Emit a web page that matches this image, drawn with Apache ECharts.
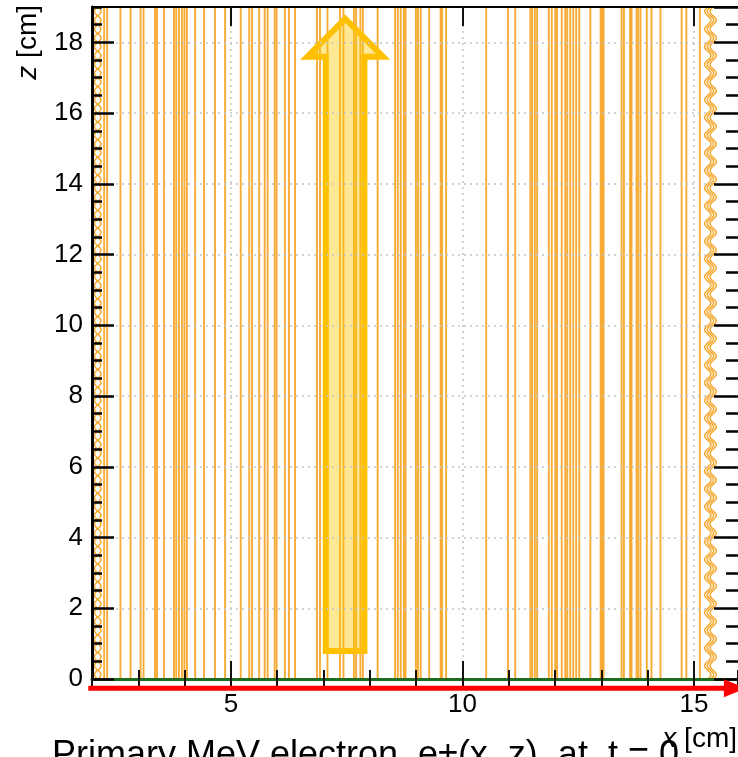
<!DOCTYPE html>
<html>
<head>
<meta charset="utf-8">
<title>Electron tracks in the x–z plane</title>
<script src="https://cdn.jsdelivr.net/npm/echarts@6/dist/echarts.min.js"></script>
<style>
  html, body { margin: 0; padding: 0; background: #ffffff; }
  #chart { width: 738px; height: 757px; }
</style>
</head>
<body>
<div id="chart"></div>
<script>
// Axis ranges [cm]
const xRange = [2, 15.95];
const zRange = [0, 19];

// Tick positions
const xMajorTicks = [5, 10, 15];
const zMajorStep = 2;
const zMinorStep = 0.5;
const xMinorStep = 1;

// x positions [cm] of the straight drift tracks
const trackX = [
  2.263, 2.327, 2.614, 2.833, 3.048, 3.113, 3.361, 3.404, 3.554, 3.770,
  3.819, 3.877, 3.942, 3.996, 4.050, 4.228, 4.420, 4.657, 4.874, 5.212,
  5.395, 5.455, 5.610, 5.729, 5.793, 5.944, 5.987, 6.166, 6.252, 6.385,
  6.859, 6.924, 7.085, 7.354, 7.430, 7.656, 7.703, 7.795, 7.849, 8.168,
  8.545, 8.603, 8.667, 8.736, 8.771, 8.995, 9.040, 9.098, 9.281, 9.529,
  9.561, 9.647, 10.512, 10.982, 11.139, 11.466, 11.505, 11.563, 11.612, 11.865,
  11.929, 12.004, 12.043, 12.144, 12.220, 12.263, 12.327, 12.392, 12.456, 12.521,
  12.762, 12.984, 13.016, 13.048, 13.436, 13.486, 13.619, 13.651, 13.759, 13.795,
  13.845, 13.981, 14.082, 14.276, 14.734, 14.835, 15.126
];

// Oscillating tracks near the edges: centre x [cm], amplitude [cm], phase [rad]
const waveX     = [2.123, 2.123, 15.297, 15.355, 15.413];
const waveAmp   = [0.072, 0.072, 0.068, 0.068, 0.068];
const wavePhase = [0, Math.PI, 0, 0, 0];
const wavePeriod = 0.5;

// Drift direction arrow outline (x, z) [cm]
const driftArrow = [
  [7.048, 0.792], [7.882, 0.792], [7.882, 17.594], [8.285, 17.594],
  [7.467, 18.668], [6.649, 17.594], [7.048, 17.594]
];

// Beam direction arrow along x, just below z = 0
const beamArrow = [[1.92, -0.26], [16.12, -0.26]];

const FONT = '"Liberation Sans", Arial, Helvetica, sans-serif';
const trackColor = 'rgba(244, 158, 20, 0.85)';
const gridLine = { show: true, lineStyle: { color: '#c4c4c4', width: 1.5, type: [2, 4] } };

const chart = echarts.init(document.getElementById('chart'), null, { renderer: 'canvas' });

const gridBox = { left: 92, top: 7, width: 648, height: 672 };

function baseX(extra) {
  return Object.assign({
    type: 'value', min: xRange[0], max: xRange[1], gridIndex: 0,
    axisLine: { show: false }, axisLabel: { show: false },
    splitLine: { show: false }, axisTick: { show: false }
  }, extra);
}
function baseZ(extra) {
  return Object.assign({
    type: 'value', min: zRange[0], max: zRange[1], gridIndex: 0,
    axisLine: { show: false }, axisLabel: { show: false },
    splitLine: { show: false }, axisTick: { show: false }
  }, extra);
}

const option = {
  animation: false,
  backgroundColor: '#ffffff',
  grid: Object.assign({ containLabel: false, show: false }, gridBox),
  xAxis: [
    baseX({
      position: 'bottom', z: 5,
      axisLine: { show: true, onZero: false, lineStyle: { color: '#1f6b1f', width: 3 } },
      axisTick: { show: true, inside: true, length: 18, customValues: xMajorTicks,
                  lineStyle: { color: '#111', width: 2 } },
      axisLabel: { show: true, customValues: xMajorTicks, margin: 13,
                   fontFamily: FONT, fontSize: 26, color: '#000' },
      splitLine: gridLine
    }),
    baseX({
      position: 'bottom', interval: xMinorStep, z: 5,
      axisTick: { show: true, inside: true, length: 9, lineStyle: { color: '#111', width: 2 } }
    }),
    baseX({
      position: 'top', z: 5,
      axisLine: { show: true, onZero: false, lineStyle: { color: '#000', width: 2 } },
      axisTick: { show: true, inside: true, length: 19, customValues: xMajorTicks,
                  lineStyle: { color: '#111', width: 2 } }
    }),
    baseX({
      position: 'top', interval: xMinorStep, z: 5,
      axisTick: { show: true, inside: true, length: 9, lineStyle: { color: '#111', width: 2 } }
    })
  ],
  yAxis: [
    baseZ({
      position: 'left', interval: zMajorStep, z: 5,
      axisLine: { show: true, onZero: false, lineStyle: { color: '#000', width: 3 } },
      axisTick: { show: true, inside: true, length: 22, lineStyle: { color: '#000', width: 2.5 } },
      axisLabel: { show: true, margin: 9, showMaxLabel: false,
                   fontFamily: FONT, fontSize: 26, color: '#000' },
      splitLine: gridLine
    }),
    baseZ({
      position: 'left', interval: zMinorStep, z: 5,
      axisTick: { show: true, inside: true, length: 10, lineStyle: { color: '#000', width: 2.5 } }
    }),
    baseZ({
      position: 'right', interval: zMajorStep, z: 5,
      axisTick: { show: true, inside: true, length: 24, lineStyle: { color: '#000', width: 2.5 } }
    }),
    baseZ({
      position: 'right', interval: zMinorStep, z: 5,
      axisTick: { show: true, inside: true, length: 12, lineStyle: { color: '#000', width: 2.5 } }
    })
  ],
  series: [
    {
      // straight tracks spanning the full drift length
      type: 'custom', name: 'tracks', xAxisIndex: 0, yAxisIndex: 0, z: 2,
      data: trackX.map(x => [x, zRange[0], zRange[1]]),
      encode: { x: 0, y: [1, 2] },
      renderItem: (params, api) => {
        const x = api.value(0);
        const a = api.coord([x, api.value(1)]);
        const b = api.coord([x, api.value(2)]);
        return { type: 'line', shape: { x1: a[0], y1: a[1], x2: b[0], y2: b[1] },
                 style: { stroke: trackColor, lineWidth: 1.9 } };
      }
    },
    {
      // oscillating tracks near the edges
      type: 'custom', name: 'waves', xAxisIndex: 0, yAxisIndex: 0, z: 2,
      data: waveX.map((x, i) => [x, waveAmp[i], wavePhase[i]]),
      encode: { x: 0 },
      renderItem: (params, api) => {
        const xc = api.value(0), amp = api.value(1), ph = api.value(2);
        const pts = [];
        const steps = 760;
        for (let k = 0; k <= steps; k++) {
          const z = zRange[0] + (zRange[1] - zRange[0]) * k / steps;
          pts.push(api.coord([xc + amp * Math.sin(2 * Math.PI * z / wavePeriod + ph), z]));
        }
        return { type: 'polyline', shape: { points: pts },
                 style: { stroke: 'rgba(244, 160, 25, 0.9)', lineWidth: 1.5, fill: null } };
      }
    },
    {
      // drift direction arrow
      type: 'custom', name: 'drift', xAxisIndex: 0, yAxisIndex: 0, z: 4,
      data: [0],
      renderItem: (params, api) => {
        const pts = driftArrow.map(p => api.coord(p));
        return { type: 'polygon', shape: { points: pts },
                 style: { fill: 'rgba(255, 200, 0, 0.42)', stroke: '#ffc000',
                          lineWidth: 6, lineJoin: 'miter', miterLimit: 10 } };
      }
    },
    {
      // beam direction arrow along x
      type: 'custom', name: 'beam', xAxisIndex: 0, yAxisIndex: 0, z: 6, clip: false,
      data: [0],
      renderItem: (params, api) => {
        const a = api.coord(beamArrow[0]);
        const b = api.coord(beamArrow[1]);
        const headLen = 22, headHalf = 9;
        return {
          type: 'group',
          children: [
            { type: 'line', shape: { x1: a[0], y1: a[1], x2: b[0] - headLen + 2, y2: b[1] },
              style: { stroke: '#ff0000', lineWidth: 5 } },
            { type: 'polygon',
              shape: { points: [[b[0], b[1]], [b[0] - headLen, b[1] - headHalf], [b[0] - headLen, b[1] + headHalf]] },
              style: { fill: '#ff0000' } }
          ]
        };
      }
    }
  ],
  graphic: [
    {
      type: 'text', x: 28, y: 5, rotation: Math.PI / 2, z: 10,
      style: {
        text: '{i|z} [cm]', align: 'right', verticalAlign: 'middle',
        fontFamily: FONT, fontSize: 28, fill: '#000',
        rich: { i: { fontStyle: 'italic', fontFamily: FONT, fontSize: 28, fill: '#000' } }
      }
    },
    {
      type: 'text', x: 737, y: 739, z: 10,
      style: {
        text: '{i|x} [cm]', align: 'right', verticalAlign: 'middle',
        fontFamily: FONT, fontSize: 28, fill: '#000',
        rich: { i: { fontStyle: 'italic', fontFamily: FONT, fontSize: 28, fill: '#000' } }
      }
    },
    {
      type: 'text', x: 52, y: 738, z: 10,
      style: {
        text: 'Primary MeV electron  e±(x, z)  at  t = 0', align: 'left', verticalAlign: 'top',
        fontFamily: FONT, fontSize: 36, fill: '#000'
      }
    }
  ]
};

chart.setOption(option);
</script>
</body>
</html>
